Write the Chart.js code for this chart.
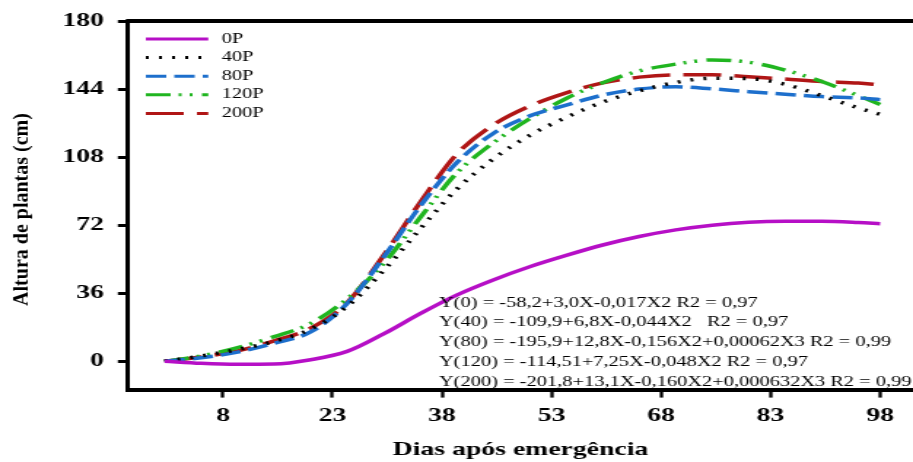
<!DOCTYPE html>
<html>
<head>
<meta charset="utf-8">
<script src="https://cdn.jsdelivr.net/npm/chart.js@4.4.1/dist/chart.umd.min.js"></script>
<style>
  html, body { margin: 0; padding: 0; background: #fff; overflow: hidden; }
  /* o original está esticado na horizontal: desenha estreito e estica */
  #grafico { display: block; width: 913px; height: 462px; }
</style>
</head>
<body>
<canvas id="grafico" width="626" height="462" style="width:913px;height:462px"></canvas>
<script>
// --- DADOS ---
const dias = [0, 5, 10, 15, 20, 25, 30, 35, 40, 45, 50, 55, 60, 65, 70, 75, 80, 85, 90, 95, 98];
const altura0P   = [0, -1.1, -1.6, -1.5, 0.8, 5.2, 14.5, 25.2, 35, 43, 50, 56, 61.5, 66, 69.5, 72, 73.5, 74, 74, 73.4, 72.8];
const altura40P  = [0, 2.8, 6.2, 10.5, 17, 29, 48, 70, 91, 107, 119.5, 129, 137.1, 143, 147.5, 149.7, 149.5, 146.5, 140.5, 134, 130.6];
const altura80P  = [0, 1.8, 4.8, 9.5, 15.5, 30.5, 55, 82, 105, 120.5, 129.8, 135.5, 140.8, 144, 145.2, 144.1, 142.6, 141.3, 140, 139.3, 138.4];
const altura120P = [0, 2.8, 7.2, 13, 20, 33, 51.7, 76, 99.5, 115.5, 128.3, 139, 147.3, 153.6, 157.2, 159.4, 158.2, 154, 148, 140.5, 135.8];
const altura200P = [0, 2.2, 5.5, 10.8, 17.5, 31, 56, 84, 109.5, 125, 135, 142, 147.3, 150.3, 151.5, 151.5, 150.5, 149.3, 148, 147.2, 146.2];

const rotulos = ['0P', '40P', '80P', '120P', '200P'];
const ticksX = [8, 23, 38, 53, 68, 83, 98];
const ticksY = [0, 36, 72, 108, 144, 180];

const equacoes = [
    'Y(0) = -58,2+3,0X-0,017X2 R2 = 0,97',
    'Y(40) = -109,9+6,8X-0,044X2   R2 = 0,97',
    'Y(80) = -195,9+12,8X-0,156X2+0,00062X3 R2 = 0,99',
    'Y(120) = -114,51+7,25X-0,048X2 R2 = 0,97',
    'Y(200) = -201,8+13,1X-0,160X2+0,000632X3 R2 = 0,99'
];

const FONTE = "'Liberation Serif', 'Times New Roman', serif";

function serie(label, valores, cor, traco) {
    return {
        label: label,
        data: dias.map((d, i) => ({ x: d, y: valores[i] })),
        borderColor: cor,
        borderDash: traco,
        borderWidth: 3.5,
        pointRadius: 0,
        fill: false,
        cubicInterpolationMode: 'monotone'
    };
}

// --- EXTRAS: moldura de cima, legenda, equações, título do eixo Y ---
const extras = {
    id: 'extras',
    afterDraw(chart) {
        const ctx = chart.ctx;
        const area = chart.chartArea;
        ctx.save();

        // linha de cima
        ctx.strokeStyle = '#000';
        ctx.lineWidth = 4;
        ctx.setLineDash([]);
        ctx.beginPath();
        ctx.moveTo(area.left - 1.5, area.top);
        ctx.lineTo(area.right, area.top);
        ctx.stroke();

        // legenda
        ctx.font = '14px ' + FONTE;
        ctx.textBaseline = 'middle';
        ctx.textAlign = 'left';
        chart.data.datasets.forEach((ds, i) => {
            const y = 39 + i * 18.6;
            ctx.strokeStyle = ds.borderColor;
            ctx.lineWidth = 3;
            ctx.setLineDash(ds.borderDash || []);
            ctx.beginPath();
            ctx.moveTo(area.left + 12.2, y);
            ctx.lineTo(area.left + 55, y);
            ctx.stroke();
            ctx.fillStyle = '#000';
            ctx.fillText(ds.label, area.left + 64.2, y);
        });
        ctx.setLineDash([]);

        // equações
        ctx.font = '14px ' + FONTE;
        ctx.fillStyle = '#000';
        equacoes.forEach((txt, i) => {
            ctx.fillText(txt, area.left + 213.2, 303 + i * 19.75);
        });

        // título do eixo Y (mais estreito, como no original)
        ctx.translate(15.8, 209.5);
        ctx.scale(0.69, 1);
        ctx.rotate(-Math.PI / 2);
        ctx.font = 'bold 20px ' + FONTE;
        ctx.textAlign = 'center';
        ctx.fillText('Altura de plantas (cm)', 0, 0);

        ctx.restore();
    }
};

new Chart(document.getElementById('grafico'), {
    type: 'line',
    data: {
        datasets: [
            serie(rotulos[0], altura0P, '#b60fc6', []),
            serie(rotulos[1], altura40P, '#000000', [2, 7]),
            serie(rotulos[2], altura80P, '#1d6fcc', [14, 5.5]),
            serie(rotulos[3], altura120P, '#20b520', [17, 5.5, 2, 5.5, 2, 6.5]),
            serie(rotulos[4], altura200P, '#b01616', [26, 9])
        ]
    },
    options: {
        responsive: false,
        animation: false,
        devicePixelRatio: 1,
        layout: { padding: { top: 18, left: 0, right: 0, bottom: 0 } },
        plugins: {
            legend: { display: false },
            tooltip: { enabled: false }
        },
        scales: {
            x: {
                type: 'linear',
                min: -5,
                max: 102.5,
                afterBuildTicks: s => { s.ticks = ticksX.map(v => ({ value: v })); },
                afterFit: s => { s.height = 72.4; },
                ticks: {
                    autoSkip: false,
                    maxRotation: 0,
                    color: '#000',
                    padding: 7,
                    font: { family: FONTE, size: 19, weight: 'bold' }
                },
                grid: {
                    drawOnChartArea: false,
                    drawTicks: true,
                    tickLength: 8,
                    tickWidth: 2.3,
                    tickColor: '#000'
                },
                border: { display: true, color: '#000', width: 4 },
                title: {
                    display: true,
                    text: 'Dias após emergência',
                    color: '#000',
                    font: { family: FONTE, size: 19, weight: 'bold' },
                    padding: { top: 0, bottom: 1 }
                }
            },
            y: {
                type: 'linear',
                min: -15,
                max: 180,
                afterBuildTicks: s => { s.ticks = ticksY.map(v => ({ value: v })); },
                afterFit: s => { s.width = 87.8; },
                ticks: {
                    color: '#000',
                    padding: 9.6,
                    font: { family: FONTE, size: 19, weight: 'bold' }
                },
                grid: {
                    drawOnChartArea: false,
                    drawTicks: true,
                    tickLength: 7,
                    tickWidth: 3,
                    tickColor: '#000'
                },
                border: { display: true, color: '#000', width: 3 }
            }
        }
    },
    plugins: [extras]
});
</script>
</body>
</html>
